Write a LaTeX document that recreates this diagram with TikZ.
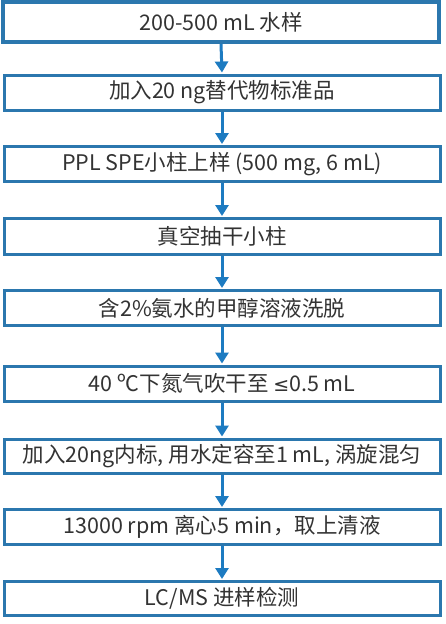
\documentclass[tikz,border=0pt]{standalone}
\usepackage{fontspec}
\setmainfont{Noto Sans CJK SC}
\newfontfamily\symfont{DejaVu Sans}
\usetikzlibrary{arrows.meta}
\definecolor{boxblue}{HTML}{2B77AE}
\definecolor{arrblue}{HTML}{1D7BC1}
\tikzset{
  x=1pt,y=-1pt,
  stepbox/.style={draw=boxblue,line width=3pt,fill=white,minimum width=436pt,inner sep=0pt,font=\fontsize{21.5}{24}\selectfont,text=black!80},
  flow/.style={draw=arrblue,line width=3pt,-{Triangle[width=13pt,length=11pt]},shorten >=1pt}
}
\begin{document}
\begin{tikzpicture}
\useasboundingbox (0,0) rectangle (445,624);
\node[stepbox,minimum height=40pt,line width=4pt] (s1) at (221,22) {200-500 mL 水样};
\node[stepbox,minimum height=35pt] (s2) at (222,92.5) {加入20 ng替代物标准品};
\node[stepbox,minimum height=35pt] (s3) at (222,164) {PPL SPE小柱上样 (500 mg, 6 mL)};
\node[stepbox,minimum height=36pt] (s4) at (222,236.5) {真空抽干小柱};
\node[stepbox,minimum height=35pt] (s5) at (222,308) {含2\%氨水的甲醇溶液洗脱};
\node[stepbox,minimum height=35pt] (s6) at (222,383.5) {40 ºC下氮气吹干至 {\symfont\fontsize{19}{22}\selectfont ≤}0.5 mL};
\node[stepbox,minimum height=34pt] (s7) at (222,456) {加入20ng内标, 用水定容至1 mL, 涡旋混匀};
\node[stepbox,minimum height=35pt] (s8) at (222,527) {13000 rpm 离心5 min，取上清液};
\node[stepbox,minimum height=34pt] (s9) at (222,598.5) {LC/MS 进样检测};
\foreach \a/\b in {s1/s2,s2/s3,s3/s4,s4/s5,s5/s6,s6/s7,s7/s8,s8/s9}
  \draw[flow] (\a.south) -- (\b.north);
\end{tikzpicture}
\end{document}
